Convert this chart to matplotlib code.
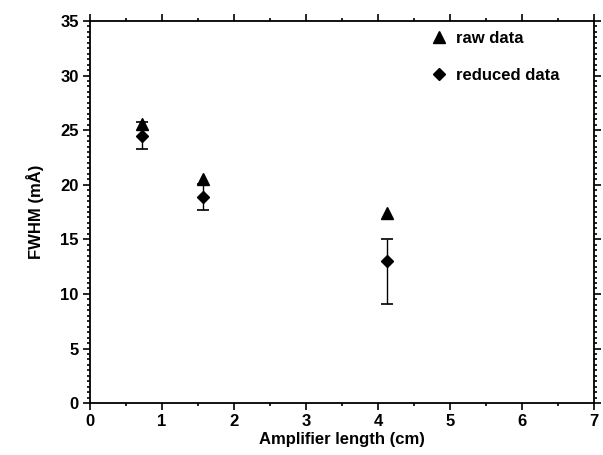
import matplotlib
matplotlib.use("Agg")
import matplotlib.pyplot as plt
from matplotlib.ticker import MultipleLocator

# Data
length_cm = [0.72, 1.57, 4.12]
raw_fwhm = [25.6, 20.5, 17.4]
reduced_fwhm = [24.5, 18.9, 13.0]
reduced_err_low = [1.2, 1.2, 3.9]
reduced_err_high = [1.2, 1.2, 2.0]

x_ticks = [0, 1, 2, 3, 4, 5, 6, 7]
y_ticks = [0, 5, 10, 15, 20, 25, 30, 35]

plt.rcParams['font.family'] = ['Liberation Sans', 'DejaVu Sans']
plt.rcParams['font.weight'] = 'bold'

fig = plt.figure(figsize=(6.03, 4.55), dpi=100)
ax = fig.add_axes([0.149, 0.114, 0.836, 0.84])

ax.errorbar(length_cm, reduced_fwhm, yerr=[reduced_err_low, reduced_err_high],
            fmt='none', ecolor='black', elinewidth=1.0, capsize=4.3, capthick=1.2, zorder=2)
ax.plot(length_cm, raw_fwhm, linestyle='none', marker='^', markersize=8,
        color='black', label='raw data', zorder=3)
ax.plot(length_cm, reduced_fwhm, linestyle='none', marker='D', markersize=6.5,
        color='black', label='reduced data', zorder=3)

ax.set_xlim(0, 7)
ax.set_ylim(0, 35)
ax.set_xticks(x_ticks)
ax.set_yticks(y_ticks)
ax.xaxis.set_minor_locator(MultipleLocator(0.5))
ax.yaxis.set_minor_locator(MultipleLocator(0.5))
ax.tick_params(which='both', top=True, right=True, direction='out', width=1.2)
ax.tick_params(which='major', length=5, labelsize=12, pad=3)
ax.tick_params(which='minor', length=2.5)
for lbl in ax.get_xticklabels() + ax.get_yticklabels():
    lbl.set_fontweight('bold')
for sp in ax.spines.values():
    sp.set_linewidth(1.3)

ax.set_xlabel('Amplifier length (cm)', fontsize=12, fontweight='bold', labelpad=2)
ax.set_ylabel('FWHM (mÅ)', fontsize=12, fontweight='bold', labelpad=12)

leg = ax.legend(loc='upper left', bbox_to_anchor=(0.66, 1.0), frameon=False,
                fontsize=12, handlelength=0.8, handletextpad=0.6, labelspacing=1.3,
                numpoints=1, borderaxespad=0.2)
for t in leg.get_texts():
    t.set_fontweight('bold')

fig.savefig('out.png', dpi=100)
